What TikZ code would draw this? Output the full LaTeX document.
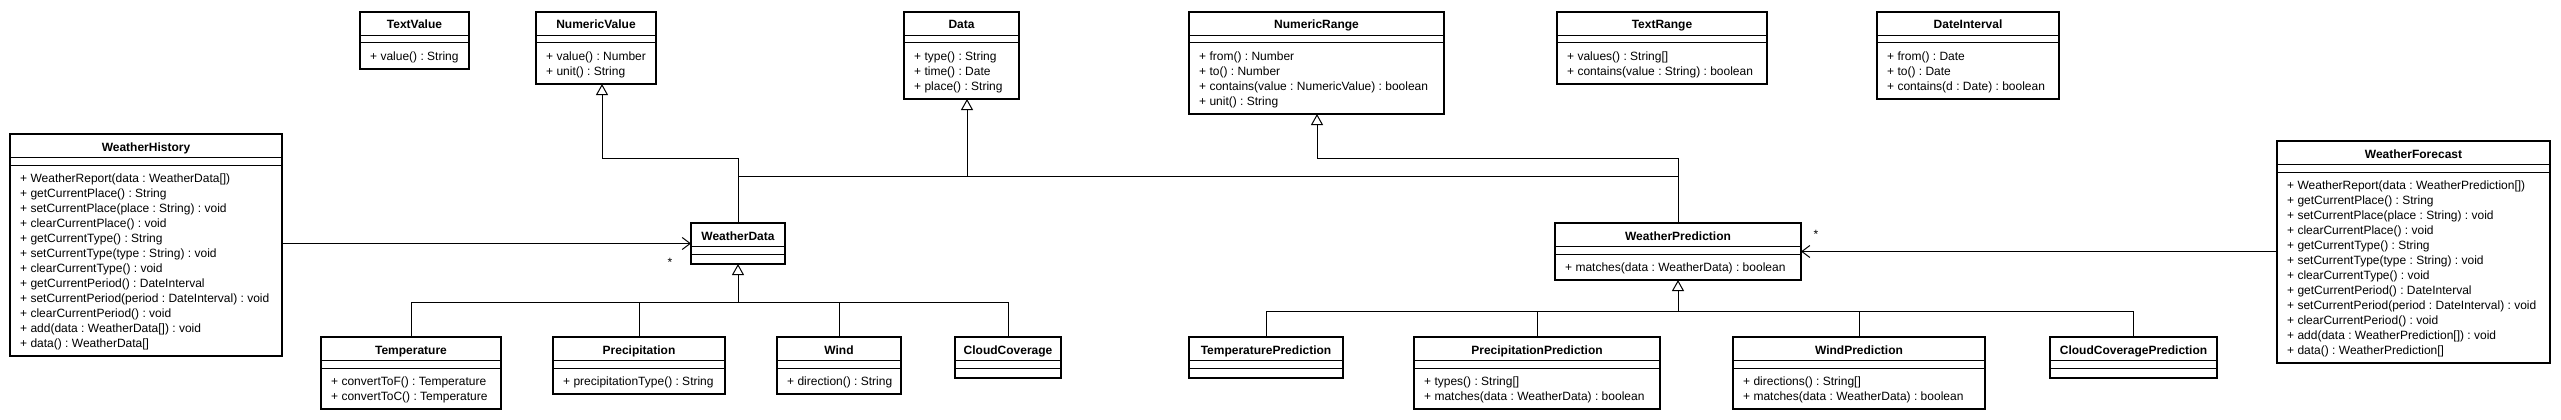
\documentclass[tikz,border=0pt]{standalone}
\usepackage{fontspec}
\setmainfont{Liberation Sans}
\frenchspacing
\usetikzlibrary{arrows.meta}
\tikzset{
  classbox/.style={draw, line width=2pt, outer sep=0pt, inner sep=0pt, fill=white},
  divider/.style={line width=1pt},
  conn/.style={line width=1pt},
  gen/.style={conn, -{Triangle[open, length=11pt, width=12pt, line width=1pt]}},
  assoc/.style={conn, -{Straight Barb[length=8pt, width=12pt, line width=1pt]}},
  titletext/.style={font=\fontsize{12}{15}\selectfont\bfseries, anchor=base, inner sep=0pt},
  methtext/.style={font=\fontsize{12}{15}\selectfont, anchor=base west, inner sep=0pt},
  mult/.style={font=\fontsize{12}{15}\selectfont, inner sep=0pt}
}
\newcommand\umlclass[7]{%
  \pgfmathsetmacro\clsh{#5==0 ? 41 : 42+15*#5}%
  \node[classbox, minimum width=#4pt, minimum height=\clsh pt, anchor=north west] (#1) at (#2,#3) {};
  \draw[divider] ([yshift=-23.5pt]#1.north west) -- ([yshift=-23.5pt]#1.north east);
  \draw[divider] ([yshift=-31pt]#1.north west) -- ([yshift=-31pt]#1.north east);
  \node[titletext] (#1-title) at ([yshift=-17pt]#1.north) {#6};
  \ifnum#5>0
  \foreach \m [count=\i] in {#7} {
    \node[methtext] (#1-m\i) at ([xshift=10pt, yshift={-48pt-15pt*(\i-1)}]#1.north west) {\m};
  }
  \fi
}
\begin{document}
\begin{tikzpicture}[x=1pt, y=-1pt]
\useasboundingbox (0,0) rectangle (2561,420);

\umlclass{TextValue}{360}{12}{109}{1}{TextValue}{+ value() : String}
\umlclass{NumericValue}{536}{12}{120}{2}{NumericValue}{+ value() : Number, + unit() : String}
\umlclass{Data}{904}{12}{115}{3}{Data}{+ type() : String, + time() : Date, + place() : String}
\umlclass{NumericRange}{1189}{12}{255}{4}{NumericRange}{+ from() : Number, + to() : Number, + contains(value : NumericValue) : boolean, + unit() : String}
\umlclass{TextRange}{1557}{12}{210}{2}{TextRange}{+ values() : String[], + contains(value : String) : boolean}
\umlclass{DateInterval}{1877}{12}{182}{3}{DateInterval}{+ from() : Date, + to() : Date, + contains(d : Date) : boolean}

\umlclass{WeatherHistory}{10}{134}{272}{12}{WeatherHistory}{+ WeatherReport(data : WeatherData[]), + getCurrentPlace() : String, + setCurrentPlace(place : String) : void, + clearCurrentPlace() : void, + getCurrentType() : String, + setCurrentType(type : String) : void, + clearCurrentType() : void, + getCurrentPeriod() : DateInterval, + setCurrentPeriod(period : DateInterval) : void, + clearCurrentPeriod() : void, + add(data : WeatherData[]) : void, + data() : WeatherData[]}
\umlclass{WeatherForecast}{2277}{141}{273}{12}{WeatherForecast}{+ WeatherReport(data : WeatherPrediction[]), + getCurrentPlace() : String, + setCurrentPlace(place : String) : void, + clearCurrentPlace() : void, + getCurrentType() : String, + setCurrentType(type : String) : void, + clearCurrentType() : void, + getCurrentPeriod() : DateInterval, + setCurrentPeriod(period : DateInterval) : void, + clearCurrentPeriod() : void, + add(data : WeatherPrediction[]) : void, + data() : WeatherPrediction[]}

\umlclass{WeatherData}{691}{223}{94}{0}{WeatherData}{}
\umlclass{WeatherPrediction}{1555}{223}{246}{1}{WeatherPrediction}{+ matches(data : WeatherData) : boolean}

\umlclass{Temperature}{321}{337}{180}{2}{Temperature}{+ convertToF() : Temperature, + convertToC() : Temperature}
\umlclass{Precipitation}{553}{337}{172}{1}{Precipitation}{+ precipitationType() : String}
\umlclass{Wind}{777}{337}{124}{1}{Wind}{+ direction() : String}
\umlclass{CloudCoverage}{955}{337}{106}{0}{CloudCoverage}{}

\umlclass{TemperaturePrediction}{1189}{337}{154}{0}{TemperaturePrediction}{}
\umlclass{PrecipitationPrediction}{1414}{337}{246}{2}{PrecipitationPrediction}{+ types() : String[], + matches(data : WeatherData) : boolean}
\umlclass{WindPrediction}{1733}{337}{252}{2}{WindPrediction}{+ directions() : String[], + matches(data : WeatherData) : boolean}
\umlclass{CloudCoveragePrediction}{2050}{337}{167}{0}{CloudCoveragePrediction}{}

% bend points
\coordinate (nvBend) at (602,158);
\coordinate (nrBend) at (1317,158);
\coordinate (dataJoin) at (967,176);
\coordinate (wdBus) at (738,302);
\coordinate (wpBus) at (1678,311);

% generalizations to NumericValue, Data, NumericRange
\draw[gen] (WeatherData.north) |- (nvBend) -- (nvBend |- NumericValue.south);
\draw[gen] (WeatherPrediction.north) |- (nrBend) -- (nrBend |- NumericRange.south);
\draw[conn] (WeatherData.north |- dataJoin) -- (WeatherPrediction.north |- dataJoin);
\draw[gen] (dataJoin) -- (dataJoin |- Data.south);

% WeatherData subclasses
\draw[gen] (wdBus) -- (WeatherData.south);
\draw[conn] (Temperature.north) |- (CloudCoverage.north |- wdBus) -- (CloudCoverage.north);
\draw[conn] (Precipitation.north) -- (Precipitation.north |- wdBus);
\draw[conn] (Wind.north) -- (Wind.north |- wdBus);

% WeatherPrediction subclasses
\draw[gen] (wpBus) -- (WeatherPrediction.south);
\draw[conn] (TemperaturePrediction.north) |- (CloudCoveragePrediction.north |- wpBus) -- (CloudCoveragePrediction.north);
\draw[conn] (PrecipitationPrediction.north) -- (PrecipitationPrediction.north |- wpBus);
\draw[conn] (WindPrediction.north) -- (WindPrediction.north |- wpBus);

% associations
\draw[assoc] (WeatherData.west -| WeatherHistory.east) -- (WeatherData.west);
\draw[assoc] (WeatherPrediction.east -| WeatherForecast.west) -- (WeatherPrediction.east);
\node[mult] (multWD) at (670,262) {*};
\node[mult] (multWP) at (1816,234) {*};
\end{tikzpicture}
\end{document}
